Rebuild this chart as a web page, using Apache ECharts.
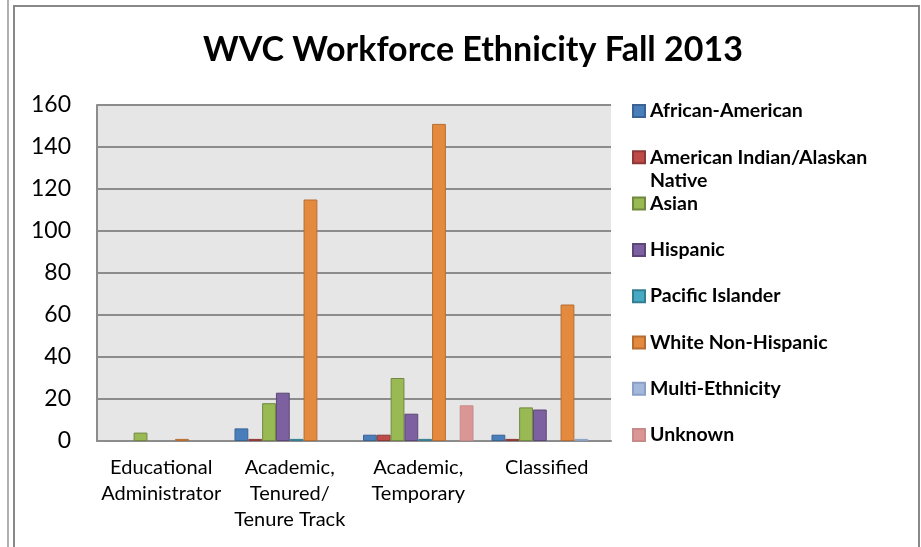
<!DOCTYPE html>
<html>
<head>
<meta charset="utf-8">
<script src="https://cdn.jsdelivr.net/npm/echarts@6/dist/echarts.min.js"></script>
<style>
html,body{margin:0;padding:0;background:#fff;}
#c{width:921px;height:547px;}
</style>
</head>
<body>
<div id="c"></div>
<script>
const categories = ['Educational\nAdministrator', 'Academic,\nTenured/\nTenure Track', 'Academic,\nTemporary', 'Classified'];
const seriesNames = ['African-American', 'American Indian/Alaskan Native', 'Asian', 'Hispanic', 'Pacific Islander', 'White Non-Hispanic', 'Multi-Ethnicity', 'Unknown'];
const africanAmerican = [0, 6, 3, 3];
const americanIndian = [0, 1, 3, 1];
const asian = [4, 18, 30, 16];
const hispanic = [0, 23, 13, 15];
const pacificIslander = [0, 1, 1, 0];
const whiteNonHispanic = [1, 115, 151, 65];
const multiEthnicity = [0, 0, 0, 1];
const unknown = [0, 0, 17, 0];
const yTicks = [0, 20, 40, 60, 80, 100, 120, 140, 160];

const seriesValues = [africanAmerican, americanIndian, asian, hispanic, pacificIslander, whiteNonHispanic, multiEthnicity, unknown];
const fills = ['#4a7ebb', '#be4b48', '#98b954', '#7d60a0', '#46aac5', '#e48a3e', '#a3b8db', '#d99694'];
const borders = ['#3a6394', '#8c3836', '#71893f', '#5c4776', '#357d91', '#b66d31', '#8aa0c4', '#c88a88'];

const chart = echarts.init(document.getElementById('c'), null, {renderer: 'canvas'});
const FONT = 'Lato';

const legends = seriesNames.map((n, i) => ({
  data: [n],
  left: 627,
  top: 96 + i * 46.3,
  orient: 'vertical',
  itemWidth: 12,
  itemHeight: 12,
  selectedMode: false,
  icon: 'rect',
  formatter: (name) => name === 'American Indian/Alaskan Native' ? 'American Indian/Alaskan' : name,
  textStyle: {fontFamily: FONT, fontWeight: 'bold', fontSize: 19.5, color: '#000'}
}));

const option = {
  animation: false,
  backgroundColor: '#fff',
  title: {
    text: 'WVC Workforce Ethnicity Fall 2013',
    left: 468, top: 28, textAlign: 'center',
    textStyle: {fontFamily: FONT, fontWeight: 'bold', fontSize: 34, color: '#000'}
  },
  legend: legends,
  grid: {
    left: 97, right: 310, top: 105, bottom: 106,
    show: true, backgroundColor: '#e6e6e6', borderWidth: 0
  },
  xAxis: {
    type: 'category',
    data: categories,
    axisLine: {lineStyle: {color: '#8c8c8c', width: 2}},
    axisTick: {show: false},
    axisLabel: {fontFamily: FONT, fontSize: 20, color: '#000', lineHeight: 26, margin: 14, interval: 0}
  },
  yAxis: {
    type: 'value',
    min: yTicks[0], max: yTicks[yTicks.length - 1], interval: yTicks[1] - yTicks[0],
    axisLine: {show: true, lineStyle: {color: '#8c8c8c', width: 2}},
    axisTick: {show: false},
    splitLine: {lineStyle: {color: '#8c8c8c', width: 2}},
    axisLabel: {fontFamily: FONT, fontSize: 23, color: '#000', margin: 26}
  },
  series: seriesNames.map((n, i) => ({
    name: n,
    type: 'bar',
    data: seriesValues[i].map(v => v === 0 ? '-' : v),
    barGap: '0%',
    barCategoryGap: '14%',
    itemStyle: {color: fills[i], borderColor: borders[i], borderWidth: 1}
  })),
  graphic: [
    {type: 'line', shape: {x1: 8, y1: 0, x2: 8, y2: 547}, style: {stroke: '#b0b0b0', lineWidth: 2}},
    {type: 'rect', shape: {x: 14, y: 6, width: 905, height: 560}, style: {fill: 'none', stroke: '#888', lineWidth: 2}},
    {type: 'text', left: 650, top: 171, style: {text: 'Native', fontFamily: FONT, fontWeight: 'bold', fontSize: 19.5, fill: '#000'}}
  ]
};
chart.setOption(option);
</script>
</body>
</html>
